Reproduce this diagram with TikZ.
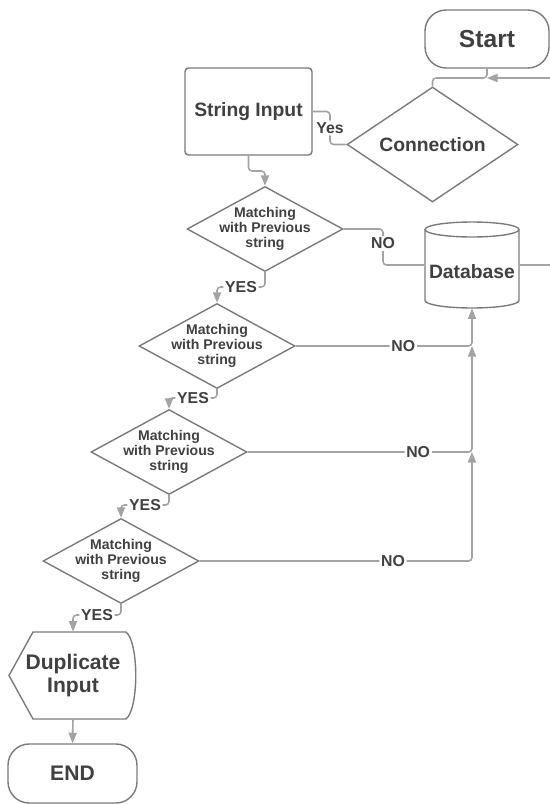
\documentclass[tikz,border=0pt]{standalone}
\usepackage{xcolor}
\usepackage{fontspec}
\setmainfont{Liberation Sans}
\usepackage{tikz}
\usetikzlibrary{shapes.geometric, arrows.meta}
\definecolor{shapegray}{HTML}{7B7B7B}
\definecolor{linegray}{HTML}{A3A3A3}
\definecolor{textgray}{HTML}{404040}

\tikzset{
  outline/.style={draw=shapegray, line width=0.8pt},
  box/.style={outline, text=textgray, font=\bfseries},
  terminal/.style={box, rounded corners=12pt},
  decision/.style={box, diamond, inner sep=0pt},
  matchtext/.style={text=textgray, align=center, font=\fontsize{8}{8.6}\selectfont\bfseries},
  matchbox/.style={decision, minimum width=3.12cm, minimum height=1.7cm,
    label={[matchtext]center:Matching\\with Previous\\string}},
  wire/.style={draw=linegray, line width=0.9pt, rounded corners=2pt},
  flow/.style={wire, -{Triangle[length=6pt, width=4.6pt]}},
  lbl/.style={fill=white, inner sep=1pt, text=textgray, font=\fontsize{9}{9}\selectfont\bfseries},
}

\begin{document}
\begin{tikzpicture}[x=0.02cm, y=-0.02cm]
  \useasboundingbox (0,0) rectangle (550,804);
  \clip (0,0) rectangle (550,804);

  % shapes
  \node[terminal, minimum width=2.48cm, minimum height=1.16cm,
        font=\fontsize{14}{14}\selectfont\bfseries] (start) at (487,39) {Start};
  \node[decision, shape aspect=1.5, minimum width=3.42cm, minimum height=2.3cm,
        font=\fontsize{11}{11}\selectfont\bfseries] (link) at (432.5,144.5) {Connection};
  \node[box, rounded corners=2pt, minimum width=2.54cm, minimum height=1.74cm,
        font=\fontsize{11}{11}\selectfont\bfseries] (strin) at (248.5,111.5) {String Input};

  \node[matchbox] (m1) at (265,229) {};
  \node[matchbox] (m2) at (217,346) {};
  \node[matchbox] (m3) at (169,452) {};
  \node[matchbox] (m4) at (121,561) {};

  % database
  \node[minimum width=1.88cm, minimum height=1.72cm] (db) at (472,265) {};
  \draw[outline] (425,229.5) -- (425,300.5)
    arc[start angle=180, end angle=360, x radius=0.94cm, y radius=0.15cm] -- (519,229.5);
  \draw[outline] (472,229.5) ellipse [x radius=0.94cm, y radius=0.15cm];
  \node[text=textgray, font=\fontsize{11}{11}\selectfont\bfseries] (dbname) at (472,272) {Database};

  % duplicate input
  \node[text=textgray, align=center, font=\fontsize{12}{13}\selectfont\bfseries,
        minimum width=2.56cm, minimum height=1.74cm] (dup) at (73,675.5) {Duplicate\\Input};
  \draw[outline] (33,719) -- (9,675.5) -- (33,632) -- (126,632)
    .. controls (139,642) and (139,709) .. (126,719) -- cycle;

  \node[terminal, minimum width=2.58cm, minimum height=1.18cm,
        font=\fontsize{12}{12}\selectfont\bfseries] (stop) at (72.5,773.5) {END};

  % junctions
  \coordinate (j0) at (487,78);
  \coordinate (j2) at (472,346);
  \coordinate (j3) at (472,452);

  % connectors
  \draw[wire] (start.south) -- (j0) -| (link.north);
  \draw[flow] (db.east) -- (556,265) -- (556,78) -- (j0);
  \draw[wire] (link.west) -- (330,144.5) -- node[lbl] {Yes} (330,111.5) -- (strin.east);
  \draw[flow] (strin.south) -- (248.5,171) -| (m1.north);

  \draw[wire] (m1.east) -- (383,229) -- node[lbl, pos=0.4] {NO} (383,265) -- (db.west);
  \draw[flow] (m2.east) -- node[lbl, pos=0.61] {NO} (j2) -- (db.south);
  \draw[flow] (m3.east) -- node[lbl, pos=0.76] {NO} (472,452) -- (j2);
  \draw[flow] (m4.east) -- node[lbl, pos=0.71] {NO} (472,561) -- (j3);

  \draw[flow] (m1.south) -- (265,287) -- node[lbl] {YES} (217,287) -- (m2.north);
  \draw[flow] (m2.south) -- (217,398) -- node[lbl] {YES} (169,398) -- (m3.north);
  \draw[flow] (m3.south) -- (169,505) -- node[lbl] {YES} (121,505) -- (m4.north);
  \draw[flow] (m4.south) -- (121,615) -- node[lbl] {YES} (73,615) -- (dup.north);
  \draw[flow] (dup.south) -- (stop.north);
\end{tikzpicture}
\end{document}
